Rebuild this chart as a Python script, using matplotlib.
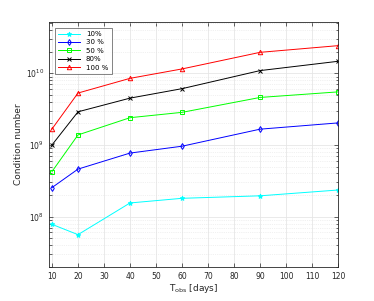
import matplotlib
matplotlib.use("Agg")
import matplotlib.pyplot as plt
from matplotlib.ticker import LogLocator, NullFormatter, MultipleLocator

t_obs = [10, 20, 40, 60, 90, 120]
labels = ["10%", "30 %", "50 %", "80%", "100 %"]
cond_10 = [7.8e7, 5.6e7, 1.55e8, 1.8e8, 1.95e8, 2.35e8]
cond_30 = [2.54e8, 4.6e8, 7.7e8, 9.6e8, 1.66e9, 2.03e9]
cond_50 = [4.25e8, 1.38e9, 2.4e9, 2.85e9, 4.6e9, 5.5e9]
cond_80 = [1.0e9, 2.9e9, 4.5e9, 6.1e9, 1.09e10, 1.47e10]
cond_100 = [1.67e9, 5.3e9, 8.5e9, 1.15e10, 1.96e10, 2.43e10]

series = [cond_10, cond_30, cond_50, cond_80, cond_100]
colors = ["#00ffff", "#0000ff", "#00ff00", "#000000", "#ff0000"]
markers = ["*", "d", "s", "x", "^"]
msizes = [3.5, 3, 3, 2.5, 3.2]

fig = plt.figure(figsize=(3.74, 3.01), dpi=100)
ax = fig.add_axes([0.131, 0.114, 0.773, 0.813])

for vals, c, m, ms, lab in zip(series, colors, markers, msizes, labels):
    ax.plot(t_obs, vals, color=c, marker=m, markersize=ms, linewidth=0.7,
            markerfacecolor="none" if m in ("d", "s", "^") else c,
            markeredgewidth=0.7, label=lab)

ax.set_yscale("log")
ax.set_xlim(8.85, 120)
ax.set_ylim(2e7, 5.2e10)
ax.xaxis.set_major_locator(MultipleLocator(10))
ax.yaxis.set_major_locator(LogLocator(base=10, numticks=10))
ax.yaxis.set_minor_locator(LogLocator(base=10, subs=range(2, 10), numticks=20))
ax.yaxis.set_minor_formatter(NullFormatter())

ax.grid(True, which="major", color="#e6e6e6", linewidth=0.6, linestyle="-")
ax.grid(True, which="minor", axis="y", color="#e3e3e3", linewidth=0.5, linestyle=":")
ax.set_axisbelow(True)

for sp in ax.spines.values():
    sp.set_color("#262626")
    sp.set_linewidth(0.6)
ax.tick_params(which="both", direction="in", top=True, right=True,
               labelsize=5.5, colors="#262626", width=0.5)
ax.tick_params(which="major", length=3)
ax.tick_params(which="minor", length=1.8)

ax.set_xlabel(r"T$_{\mathrm{obs}}$ [days]", fontsize=6.5, color="#262626", labelpad=1)
ax.set_ylabel("Condition number", fontsize=6.5, color="#262626", labelpad=2)

leg = ax.legend(loc="upper left", fontsize=5, frameon=True, fancybox=False,
                edgecolor="#262626", handlelength=3.2, borderaxespad=0.8,
                labelspacing=0.35, borderpad=0.5)
leg.get_frame().set_linewidth(0.5)

fig.savefig("out.png", dpi=100)
